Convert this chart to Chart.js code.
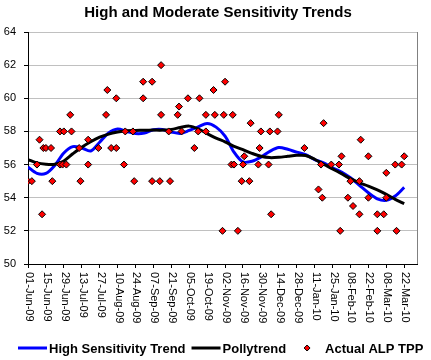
<!DOCTYPE html>
<html>
<head>
<meta charset="utf-8">
<script src="https://cdn.jsdelivr.net/npm/chart.js@4/dist/chart.umd.min.js"></script>
<style>
body { margin: 0; background: #fff; }
</style>
</head>
<body>
<canvas id="myChart" width="431" height="360"></canvas>
<script>
"use strict";

// x = days since 01-Jun-09
const tickDays = [0, 14, 28, 42, 56, 70, 84, 98, 112, 126, 140, 154, 168, 182, 196, 210, 224, 238, 252, 266, 280, 294];
const tickLabels = ["01-Jun-09", "15-Jun-09", "29-Jun-09", "13-Jul-09", "27-Jul-09", "10-Aug-09", "24-Aug-09",
    "07-Sep-09", "21-Sep-09", "05-Oct-09", "19-Oct-09", "02-Nov-09", "16-Nov-09", "30-Nov-09", "14-Dec-09",
    "28-Dec-09", "11-Jan-10", "25-Jan-10", "08-Feb-10", "22-Feb-10", "08-Mar-10", "22-Mar-10"];
const yTicks = [50, 52, 54, 56, 58, 60, 62, 64];

// Actual ALP TPP
const pollDays = [0, 3, 7, 9, 11, 12, 14, 18, 19, 25, 25, 27, 28, 30, 33, 34, 40, 41, 47, 47,
    55, 61, 62, 65, 69, 69, 75, 76, 82, 83, 90, 90, 97, 97, 103, 104, 104, 110, 111, 117,
    118, 120, 125, 130, 133, 134, 139, 139, 145, 146, 152, 153, 154, 159, 160, 161, 164, 167, 168, 169,
    173, 174, 180, 181, 182, 188, 189, 190, 195, 196, 216, 227, 229, 230, 231, 237, 243, 244, 245, 250,
    252, 254, 259, 259, 260, 266, 266, 273, 273, 278, 280, 280, 287, 288, 292, 294];
const pollValues = [55, 55, 56, 57.5, 53, 57, 57, 57, 55, 58, 56, 56, 58, 56, 59, 58, 57, 55, 56, 57.5,
    57, 59, 60.5, 57, 57, 60, 56, 58, 58, 55, 60, 61, 61, 55, 55, 59, 62, 58, 55, 59,
    59.5, 58, 60, 57, 58, 60, 58, 59, 60.5, 59, 52, 59, 61, 56, 59, 56, 52, 55, 56, 56.5,
    55, 58.5, 56, 57, 58, 56, 58, 53, 58, 59, 57, 54.5, 56, 54, 58.5, 56, 56, 52, 56.5, 54,
    55, 53.5, 55, 53, 57.5, 54, 56.5, 53, 52, 53, 54, 55.5, 56, 52, 56, 56.5];

// trend lines, weekly
const trendDays = [0, 7, 14, 21, 28, 35, 42, 49, 56, 63, 70, 77, 84, 91, 98, 105, 112, 119, 126, 133, 140,
    147, 154, 161, 168, 175, 182, 189, 196, 203, 210, 217, 224, 231, 238, 245, 252, 259, 266, 273, 280, 287, 294];
const highSensValues = [55.85, 55.47, 55.47, 55.96, 56.7, 57.08, 57.0, 56.82, 57.35, 57.9, 58.14, 58.0, 57.87,
    57.9, 58.1, 58.12, 57.97, 57.88, 58.06, 58.28, 58.48, 58.26, 57.72, 56.75, 56.16, 56.2, 56.45, 56.8, 57.03,
    56.92, 56.75, 56.6, 56.3, 56.1, 55.8, 55.55, 55.2, 54.75, 54.3, 53.93, 53.84, 54.1, 54.62];
const pollyValues = [56.3, 56.1, 56.02, 56.02, 56.22, 56.65, 57.05, 57.38, 57.65, 57.84, 57.96, 58.04, 58.06,
    58.07, 58.08, 58.08, 58.12, 58.24, 58.32, 58.16, 57.87, 57.6, 57.37, 57.1, 56.9, 56.68, 56.5, 56.42, 56.44,
    56.5, 56.56, 56.55, 56.32, 56.02, 55.74, 55.45, 55.15, 54.9, 54.7, 54.47, 54.2, 53.9, 53.64];

const seriesNames = ["High Sensitivity Trend", "Pollytrend", "Actual ALP TPP"];
const titleText = "High and Moderate Sensitivity Trends";

const FONT = '"Liberation Sans", Arial, sans-serif';

function toPoints(xs, ys) {
    return xs.map((x, i) => ({ x: x, y: ys[i] }));
}

// titel, datumetiketter och förklaring ritas här
const decor = {
    id: "decor",
    beforeDatasetsDraw(chart) {
        const ctx = chart.ctx;
        const a = chart.chartArea;
        ctx.save();
        ctx.strokeStyle = "#808080";
        ctx.lineWidth = 1;
        ctx.beginPath();
        ctx.moveTo(a.right + 0.5, a.top);
        ctx.lineTo(a.right + 0.5, a.bottom);
        ctx.stroke();
        ctx.restore();
    },
    afterDraw(chart) {
        const ctx = chart.ctx;
        const xs = chart.scales.x;
        const a = chart.chartArea;
        ctx.save();

        // title
        ctx.fillStyle = "#000";
        ctx.font = "bold 15px " + FONT;
        ctx.textAlign = "center";
        ctx.textBaseline = "alphabetic";
        ctx.fillText(titleText, 218, 17);

        // rotated date labels
        ctx.font = "11px " + FONT;
        ctx.textAlign = "left";
        ctx.textBaseline = "middle";
        tickDays.forEach((d, i) => {
            ctx.save();
            ctx.translate(xs.getPixelForValue(d) + 1, a.bottom + 8);
            ctx.rotate(Math.PI / 2);
            ctx.fillText(tickLabels[i], 0, 0);
            ctx.restore();
        });

        // legend
        ctx.font = "bold 13px " + FONT;
        ctx.textBaseline = "alphabetic";
        const ly = 348;
        let x = 18;
        const colors = ["#0000ff", "#000000"];
        seriesNames.forEach((name, i) => {
            if (i < 2) {
                ctx.strokeStyle = colors[i];
                ctx.lineWidth = 3;
                ctx.beginPath();
                ctx.moveTo(x, ly);
                ctx.lineTo(x + 29, ly);
                ctx.stroke();
            } else {
                const cx = x + 15;
                ctx.fillStyle = "#ff0000";
                ctx.strokeStyle = "#000";
                ctx.lineWidth = 1;
                ctx.beginPath();
                ctx.moveTo(cx - 3, ly);
                ctx.lineTo(cx, ly - 3);
                ctx.lineTo(cx + 3, ly);
                ctx.lineTo(cx, ly + 3);
                ctx.closePath();
                ctx.fill();
                ctx.stroke();
                x += 2;
            }
            ctx.fillStyle = "#000";
            ctx.fillText(name, x + 31, ly + 5);
            x += 31 + ctx.measureText(name).width + 6;
        });
        ctx.restore();
    }
};

new Chart(document.getElementById("myChart"), {
    type: "scatter",
    data: {
        datasets: [{
            label: seriesNames[2],
            data: toPoints(pollDays, pollValues),
            pointStyle: "rectRot",
            pointRadius: 3.5,
            backgroundColor: "#ff0000",
            borderColor: "#000",
            borderWidth: 1,
            order: 0
        }, {
            label: seriesNames[1],
            data: toPoints(trendDays, pollyValues),
            showLine: true,
            borderColor: "#000",
            borderWidth: 3,
            pointRadius: 0,
            tension: 0.3,
            order: 1
        }, {
            label: seriesNames[0],
            data: toPoints(trendDays, highSensValues),
            showLine: true,
            borderColor: "#0000ff",
            borderWidth: 3,
            pointRadius: 0,
            tension: 0.3,
            order: 2
        }]
    },
    options: {
        responsive: false,
        animation: false,
        devicePixelRatio: 1,
        layout: { padding: { top: 32, right: 14, left: 0, bottom: 0 } },
        plugins: {
            legend: { display: false },
            title: { display: false },
            tooltip: { enabled: false }
        },
        scales: {
            x: {
                type: "linear",
                min: 0,
                max: 304,
                afterBuildTicks: scale => { scale.ticks = tickDays.map(v => ({ value: v })); },
                afterFit: scale => { scale.height = 96; },
                ticks: { display: false },
                grid: { drawOnChartArea: false, drawTicks: true, tickLength: 4, tickColor: "#000" },
                border: { color: "#000", width: 1 }
            },
            y: {
                min: 50,
                max: 64,
                afterBuildTicks: scale => { scale.ticks = yTicks.map(v => ({ value: v })); },
                afterFit: scale => { scale.width = 28; },
                ticks: { color: "#000", font: { family: FONT, size: 11 }, padding: 8 },
                grid: { color: "#c0c0c0", tickLength: 4, tickColor: "#000" },
                border: { color: "#000", width: 1 }
            }
        }
    },
    plugins: [decor]
});
</script>
</body>
</html>
